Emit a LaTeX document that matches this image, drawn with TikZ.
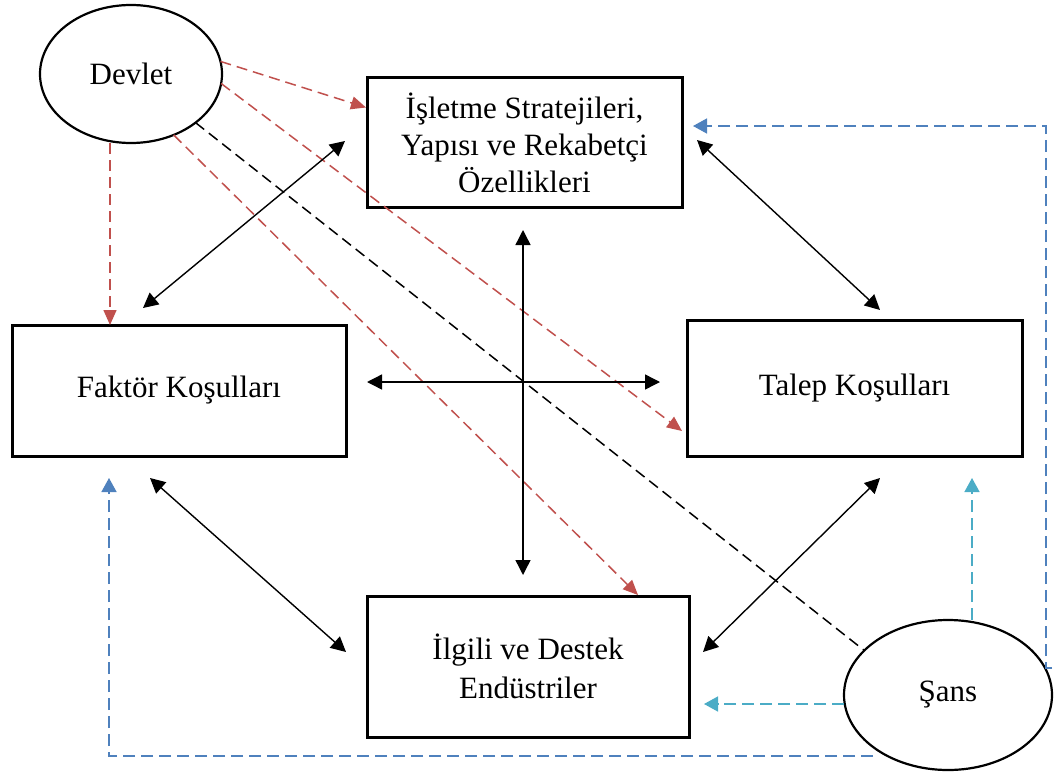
\documentclass[tikz,border=0pt]{standalone}
\usepackage{fontspec}
\setmainfont{Liberation Serif}
\usetikzlibrary{shapes.geometric,arrows.meta,calc}
\definecolor{dred}{HTML}{C0504D}
\definecolor{dblue}{HTML}{4F81BD}
\definecolor{lblue}{HTML}{4BACC6}
\begin{document}
\begin{tikzpicture}[x=1pt,y=-1pt,
  every node/.style={font=\fontsize{31}{37}\selectfont, inner sep=0pt, outer sep=0pt},
  box/.style={draw, line width=3pt, rectangle, align=center},
  oval/.style={draw, line width=2.2pt, ellipse},
  redarrow/.style={draw=dred, line width=1.5pt, dash pattern=on 11pt off 6pt, -{Triangle[length=15pt,width=13pt]}},
  bluearrow/.style={draw=dblue, line width=1.5pt, dash pattern=on 12pt off 6pt, -{Triangle[length=14pt,width=15pt]}},
  lbluearrow/.style={draw=lblue, line width=1.5pt, dash pattern=on 12pt off 6pt, -{Triangle[length=14pt,width=15pt]}},
  blackdash/.style={draw=black, line width=1.5pt, dash pattern=on 11pt off 6pt},
  dbl/.style={draw=black, line width=1.4pt, {Triangle[length=15pt,width=15pt]}-{Triangle[length=15pt,width=15pt]}}
]
\useasboundingbox (0,0) rectangle (1056,773);

\node[oval, minimum width=182pt, minimum height=138pt] (dev) at (131,74) {Devlet};
\node[box, minimum width=315pt, minimum height=129pt] (str) at (524.5,142.5) {İşletme Stratejileri,\\Yapısı ve Rekabetçi\\Özellikleri};
\node[box, minimum width=334pt, minimum height=131pt] (fak) at (179,390.5) {Faktör Koşulları};
\node[box, minimum width=335pt, minimum height=136pt] (tal) at (854.5,388) {Talep Koşulları};
\node[box, minimum width=322pt, minimum height=141pt, font=\fontsize{31}{39}\selectfont] (ilg) at (528,666.5) {İlgili ve Destek\\Endüstriler};
\node[oval, minimum width=208pt, minimum height=150pt] (sans) at (948,695) {Şans};

% Devlet influences
\draw[redarrow] (dev.8) -- ($(str.west)+(-1,-35)$);
\draw[redarrow] ($(dev.south)+(-21,0)$) -- ($(fak.north)+(-69,0)$);
\draw[redarrow] (dev.-6) -- ($(tal.west)+(-5,43)$);
\draw[redarrow] (dev.-55) -- ($(ilg.north)+(110,-1)$);
\draw[blackdash] (dev.-37) -- (sans.152);

% double arrows
\draw[dbl] ($(fak.north)+(-36,-17)$) -- ($(str.west)+(-22,-1.5)$);
\draw[dbl] ($(str.east)+(15,-2.5)$) -- ($(tal.north)+(25.5,-10)$);
\draw[dbl] ($(fak.south)+(-29,22)$) -- ($(ilg.west)+(-21,-14.5)$);
\draw[dbl] ($(tal.south)+(25.5,22)$) -- ($(ilg.east)+(14,-14.5)$);
\draw[dbl] ($(str.south)+(-1.5,23)$) -- ($(ilg.north)+(-5,-21)$);
\draw[dbl] ($(fak.east)+(21,-8.5)$) -- ($(tal.west)+(-27,-6)$);

% Sans influences
\draw[bluearrow] ($(sans.east)+(0,-27)$) -- ++(-6,0) |- ($(str.east)+(11,-16.5)$);
\draw[bluearrow] ($(sans.south)+(-75,-14)$) -| ($(fak.south)+(-70,22)$);
\draw[lbluearrow] ($(sans.west)+(0,9)$) -- ($(ilg.east)+(15,37.5)$);
\draw[lbluearrow] ($(sans.north)+(24,0)$) -- ($(tal.south)+(117.5,22)$);
\end{tikzpicture}
\end{document}
